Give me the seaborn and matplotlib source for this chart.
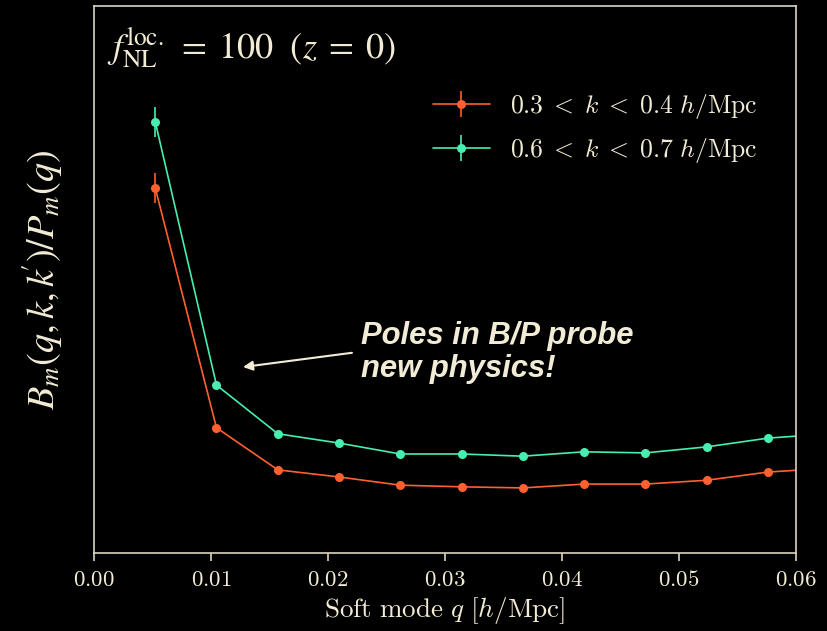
import numpy as np
import pandas as pd
import matplotlib
matplotlib.use("Agg")
import matplotlib.pyplot as plt
from matplotlib.ticker import FuncFormatter, NullLocator
from matplotlib.legend_handler import HandlerTuple
import seaborn as sns

# Soft-mode wavenumbers (multiples of the fundamental mode of the box)
q_soft = [0.00524, 0.01047, 0.01571, 0.02094, 0.02618, 0.03142,
          0.03665, 0.04189, 0.04712, 0.05236, 0.05760, 0.06283]

# B_m(q,k,k')/P_m(q) for two hard-mode bins (arbitrary units)
ratio_low_k = [6.67, 2.29, 1.52, 1.39, 1.24, 1.21, 1.19, 1.26, 1.26, 1.33, 1.48, 1.55]
err_low_k = [0.27, 0.05, 0.03, 0.03, 0.03, 0.03, 0.03, 0.03, 0.03, 0.03, 0.03, 0.03]
ratio_high_k = [7.88, 3.07, 2.18, 2.01, 1.81, 1.81, 1.77, 1.85, 1.83, 1.94, 2.10, 2.18]
err_high_k = [0.28, 0.05, 0.03, 0.03, 0.03, 0.03, 0.03, 0.03, 0.03, 0.03, 0.03, 0.03]

bin_labels = [r"$0.3\; <\; k\; <\; 0.4\ h/\mathrm{Mpc}$",
              r"$0.6\; <\; k\; <\; 0.7\ h/\mathrm{Mpc}$"]
x_ticks = [0.00, 0.01, 0.02, 0.03, 0.04, 0.05, 0.06]

CREAM = "#F2EBD5"
ORANGE = "#FF6030"
GREEN = "#48EDB0"

sns.set_theme(style="ticks", rc={
    "figure.facecolor": "black",
    "axes.facecolor": "black",
    "axes.edgecolor": "#DCD4BC",
    "axes.linewidth": 1.2,
    "xtick.color": "#DCD4BC",
    "ytick.color": "#DCD4BC",
    "text.color": CREAM,
    "axes.labelcolor": CREAM,
    "mathtext.fontset": "cm",
})

df = pd.DataFrame({
    "q": q_soft * 2,
    "ratio": ratio_low_k + ratio_high_k,
    "err": err_low_k + err_high_k,
    "bin": [bin_labels[0]] * len(q_soft) + [bin_labels[1]] * len(q_soft),
})
palette = {bin_labels[0]: ORANGE, bin_labels[1]: GREEN}

fig = plt.figure(figsize=(8.28, 6.31), dpi=100)
ax = fig.add_axes([0.1135, 0.1236, 0.8478, 0.8669])

sns.lineplot(data=df, x="q", y="ratio", hue="bin", palette=palette,
             marker="o", markersize=6.5, markeredgewidth=0, linewidth=1.2,
             legend=False, ax=ax)

handles = []
lines = ax.get_lines()
for i, lab in enumerate(bin_labels):
    sub = df[df["bin"] == lab]
    eb = ax.errorbar(sub["q"], sub["ratio"], yerr=sub["err"], fmt="none",
                     ecolor=palette[lab], elinewidth=1.2, capsize=0)
    handles.append((lines[i], eb))

ax.set_xlim(0.0, 0.06)
ax.set_ylim(0.0, 10.0)
ax.set_xticks(x_ticks)
ax.xaxis.set_major_formatter(FuncFormatter(lambda v, p: rf"${v:.2f}$"))
ax.yaxis.set_major_locator(NullLocator())
ax.tick_params(axis="x", length=6, width=1.2, labelsize=16.5, labelcolor=CREAM, pad=5)
for side in ["top", "right", "left", "bottom"]:
    ax.spines[side].set_visible(True)

ax.set_xlabel(r"$\mathrm{Soft\ mode}\ q\ [h/\mathrm{Mpc}]$", fontsize=19.5, labelpad=3)
ax.set_ylabel(r"$B_m(q,k,k^{\!\!\prime})/P_m(q)$", fontsize=27.5, labelpad=21,
              math_fontfamily="stix")

ax.text(0.018, 0.965, r"$f_{\rm NL}^{\rm loc.}\; =\; 100\ \ (z\; =\; 0)$",
        transform=ax.transAxes, fontsize=26, ha="left", va="top", color=CREAM,
        math_fontfamily="stix")

leg = ax.legend(handles, bin_labels, handler_map={tuple: HandlerTuple(ndivide=1)},
                loc="upper left", bbox_to_anchor=(0.483, 0.843), frameon=False,
                fontsize=18.5, handlelength=2.2, handletextpad=0.8, labelspacing=0.58,
                borderpad=0, borderaxespad=0)
for t in leg.get_texts():
    t.set_color(CREAM)

ax.annotate("", xy=(0.01274, 3.40), xytext=(0.02205, 3.66),
            arrowprops=dict(arrowstyle="-|>", color=CREAM, lw=1.5, mutation_scale=14,
                            shrinkA=0, shrinkB=0))
ax.text(0.0228, 4.24, "Poles in B/P probe\nnew physics!", fontsize=22.3,
        family="Liberation Sans", weight="bold", style="italic", color=CREAM,
        ha="left", va="top", linespacing=1.12)

fig.savefig("out.png", dpi=100, facecolor="black")
